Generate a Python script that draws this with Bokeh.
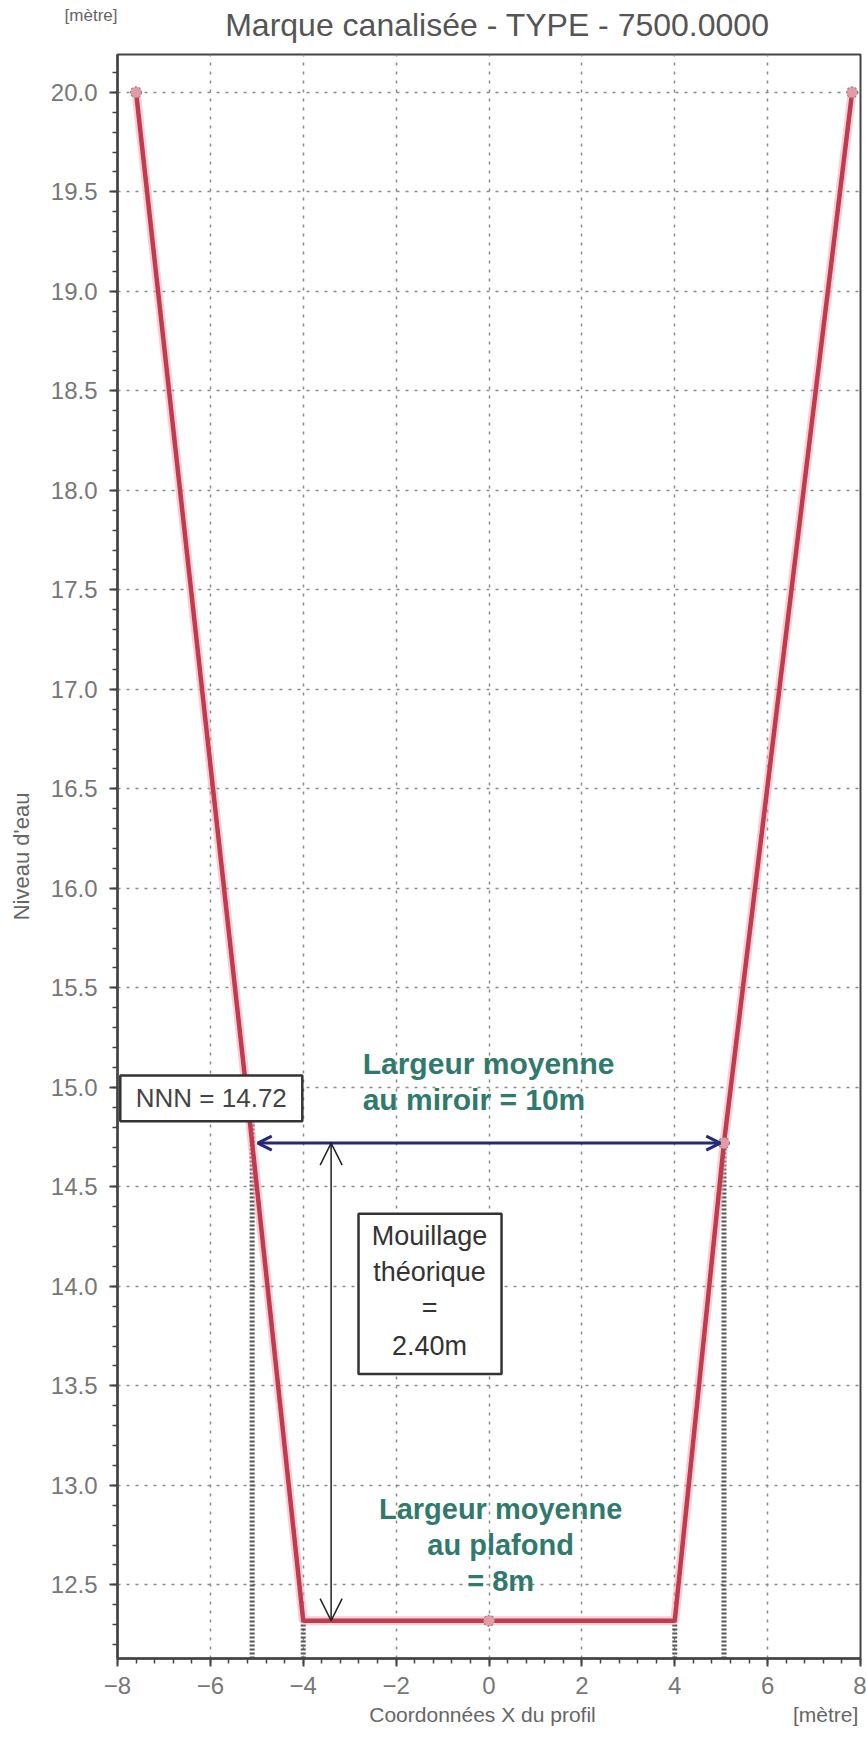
from bokeh.plotting import figure
from bokeh.layouts import column
from bokeh.models import (Range1d, SingleIntervalTicker, NumeralTickFormatter, Label,
                          BoxAnnotation, Arrow, OpenHead, ColumnDataSource,
                          LinearAxis, FixedTicker)
from bokeh.embed import file_html
from bokeh.resources import INLINE

# ---------------- data ----------------
profile_x = [-7.6, -5.1, -4.0, 0.0, 4.0, 5.06, 7.82]
profile_y = [20.0, 14.72, 12.32, 12.32, 12.32, 14.72, 20.0]
marker_x = [-7.6, 0.0, 5.06, 7.82]
marker_y = [20.0, 12.32, 14.72, 20.0]
water_level = 14.72          # NNN
bed_level = 12.32            # plafond
guide_x = [-5.1, -4.0, 4.0, 5.06]
guide_top = [14.83, 12.32, 12.32, 14.72]

title_text = "Marque canalisée - TYPE - 7500.0000"
x_label = "Coordonnées X du profil"
y_label = "Niveau d'eau"
unit_text = "[mètre]"
nnn_text = "NNN = 14.72"
miroir_lines = ["Largeur moyenne", "au miroir = 10m"]
plafond_lines = ["Largeur moyenne", "au plafond", "= 8m"]
mouillage_lines = ["Mouillage", "théorique", "=", "2.40m"]

X_MIN, X_MAX = -8.0, 8.0
Y_MIN, Y_MAX = 12.13, 20.19

FONT = "Liberation Sans"
TEAL = "#2f7a6c"
W = 866
TOTAL_H = 1739
HEAD_H = 52
LEFT = 117
RIGHT = 6

x_range = Range1d(X_MIN, X_MAX)

# ---------------- header (title + unit) ----------------
hdr = figure(width=W, height=HEAD_H, x_range=x_range, y_range=Range1d(0, HEAD_H),
             output_backend="svg", toolbar_location=None, x_axis_location=None,
             y_axis_location=None, min_border=0, min_border_left=LEFT,
             min_border_right=RIGHT)
hdr.outline_line_color = None
for g in hdr.grid:
    g.visible = False
hdr.add_layout(Label(x=0.18, y=28, text=title_text, text_align="center",
                     text_baseline="middle", text_font=FONT, text_font_size="32px",
                     text_color="#555555"))
unit_axis = LinearAxis(ticker=FixedTicker(ticks=[37]),
                       major_label_overrides={37: unit_text})
unit_axis.axis_line_color = None
unit_axis.major_tick_line_color = None
unit_axis.minor_tick_line_color = None
unit_axis.major_tick_out = 0
unit_axis.major_tick_in = 0
unit_axis.major_label_standoff = 0
unit_axis.major_label_text_font = FONT
unit_axis.major_label_text_font_size = "17px"
unit_axis.major_label_text_color = "#666666"
hdr.add_layout(unit_axis, "left")

# ---------------- main chart ----------------
p = figure(width=W, height=TOTAL_H - HEAD_H, x_range=x_range,
           y_range=Range1d(Y_MIN, Y_MAX), output_backend="svg",
           toolbar_location=None, min_border_left=LEFT, min_border_right=RIGHT,
           min_border_top=2, min_border_bottom=81)

p.background_fill_color = "white"
p.border_fill_color = "white"
p.outline_line_color = "#444444"
p.outline_line_width = 2

p.xaxis.ticker = SingleIntervalTicker(interval=2, num_minor_ticks=5)
p.yaxis.ticker = SingleIntervalTicker(interval=0.5, num_minor_ticks=5)
p.yaxis.formatter = NumeralTickFormatter(format="0.0")
for ax in (p.xaxis, p.yaxis):
    ax.axis_line_color = "#444444"
    ax.axis_line_width = 2.5
    ax.major_tick_line_color = "#444444"
    ax.major_tick_line_width = 2
    ax.minor_tick_line_color = "#444444"
    ax.minor_tick_line_width = 1.5
    ax.major_tick_out = 8
    ax.major_tick_in = 0
    ax.minor_tick_out = 5
    ax.minor_tick_in = 0
    ax.major_label_text_font = FONT
    ax.major_label_text_font_size = "24px"
    ax.major_label_text_color = "#777777"
    ax.axis_label_text_font = FONT
    ax.axis_label_text_font_style = "normal"
    ax.axis_label_text_color = "#666666"
    ax.axis_label_text_font_size = "22px"
p.xaxis.major_label_standoff = 10
p.yaxis.major_label_standoff = 12
p.yaxis.axis_label_standoff = 14
p.yaxis.axis_label = y_label

# second bottom axis carrying the x title and the unit on one line
label_axis = LinearAxis(ticker=FixedTicker(ticks=[-0.14, 7.25]),
                        major_label_overrides={-0.14: x_label, 7.25: unit_text})
label_axis.axis_line_color = None
label_axis.major_tick_line_color = None
label_axis.minor_tick_line_color = None
label_axis.major_tick_out = 0
label_axis.major_tick_in = 0
label_axis.major_label_standoff = 6
label_axis.major_label_text_font = FONT
label_axis.major_label_text_font_size = "21px"
label_axis.major_label_text_color = "#666666"
p.add_layout(label_axis, "below")

for g in (p.xgrid, p.ygrid):
    g.grid_line_color = "#8a8a8a"
    g.grid_line_dash = "3 6"
    g.grid_line_width = 1.5

# guide dotted verticals
p.segment(x0=guide_x, y0=[Y_MIN] * len(guide_x), x1=guide_x, y1=guide_top,
          line_color="#555555", line_width=5, line_dash="2 2")

# profile
src = ColumnDataSource(dict(x=profile_x, y=profile_y))
p.line("x", "y", source=src, line_color="#eaa4ae", line_width=9, line_alpha=0.5)
p.line("x", "y", source=src, line_color="#c23a4e", line_width=4.5)
p.scatter(marker_x, marker_y, size=11, fill_color="#e59aa6", line_color="#888888",
          line_dash="2 2", line_width=1.2)

# horizontal arrow (largeur au miroir)
p.add_layout(Arrow(x_start=profile_x[5] - 0.08, y_start=water_level,
                   x_end=profile_x[1] + 0.12, y_end=water_level,
                   line_color="#23297a", line_width=3,
                   start=OpenHead(line_color="#23297a", line_width=3, size=14),
                   end=OpenHead(line_color="#23297a", line_width=3, size=14)))

# vertical arrow (mouillage)
p.add_layout(Arrow(x_start=-3.4, y_start=bed_level, x_end=-3.4, y_end=water_level,
                   line_color="#222222", line_width=1.5,
                   start=OpenHead(line_color="#222222", line_width=1.5, size=22),
                   end=OpenHead(line_color="#222222", line_width=1.5, size=22)))

# NNN box
p.add_layout(BoxAnnotation(left=-7.94, right=-4.02, bottom=14.83, top=15.06,
                           fill_color="white", fill_alpha=1.0,
                           line_color="#333333", line_alpha=1.0, line_width=2.5))
p.add_layout(Label(x=-5.98, y=14.945, text=nnn_text, text_align="center",
                   text_baseline="middle", text_font=FONT, text_font_size="26px",
                   text_color="#444444"))

# Mouillage box
p.add_layout(BoxAnnotation(left=-2.81, right=0.27, bottom=13.56, top=14.365,
                           fill_color="white", fill_alpha=1.0,
                           line_color="#333333", line_alpha=1.0, line_width=2.5))
for txt, yy in zip(mouillage_lines, [14.255, 14.07, 13.89, 13.70]):
    p.add_layout(Label(x=-1.28, y=yy, text=txt, text_align="center",
                       text_baseline="middle", text_font=FONT,
                       text_font_size="27px", text_color="#333333"))

# miroir text
for txt, yy in zip(miroir_lines, [15.12, 14.94]):
    p.add_layout(Label(x=-2.72, y=yy, text=txt, text_align="left",
                       text_baseline="middle", text_font=FONT,
                       text_font_size="30px", text_font_style="bold",
                       text_color=TEAL))

# plafond text
for txt, yy in zip(plafond_lines, [12.88, 12.70, 12.52]):
    p.add_layout(Label(x=0.25, y=yy, text=txt, text_align="center",
                       text_baseline="middle", text_font=FONT,
                       text_font_size="29px", text_font_style="bold",
                       text_color=TEAL))

layout = column(hdr, p, spacing=0)
open("out.html", "w").write(file_html(layout, INLINE))
